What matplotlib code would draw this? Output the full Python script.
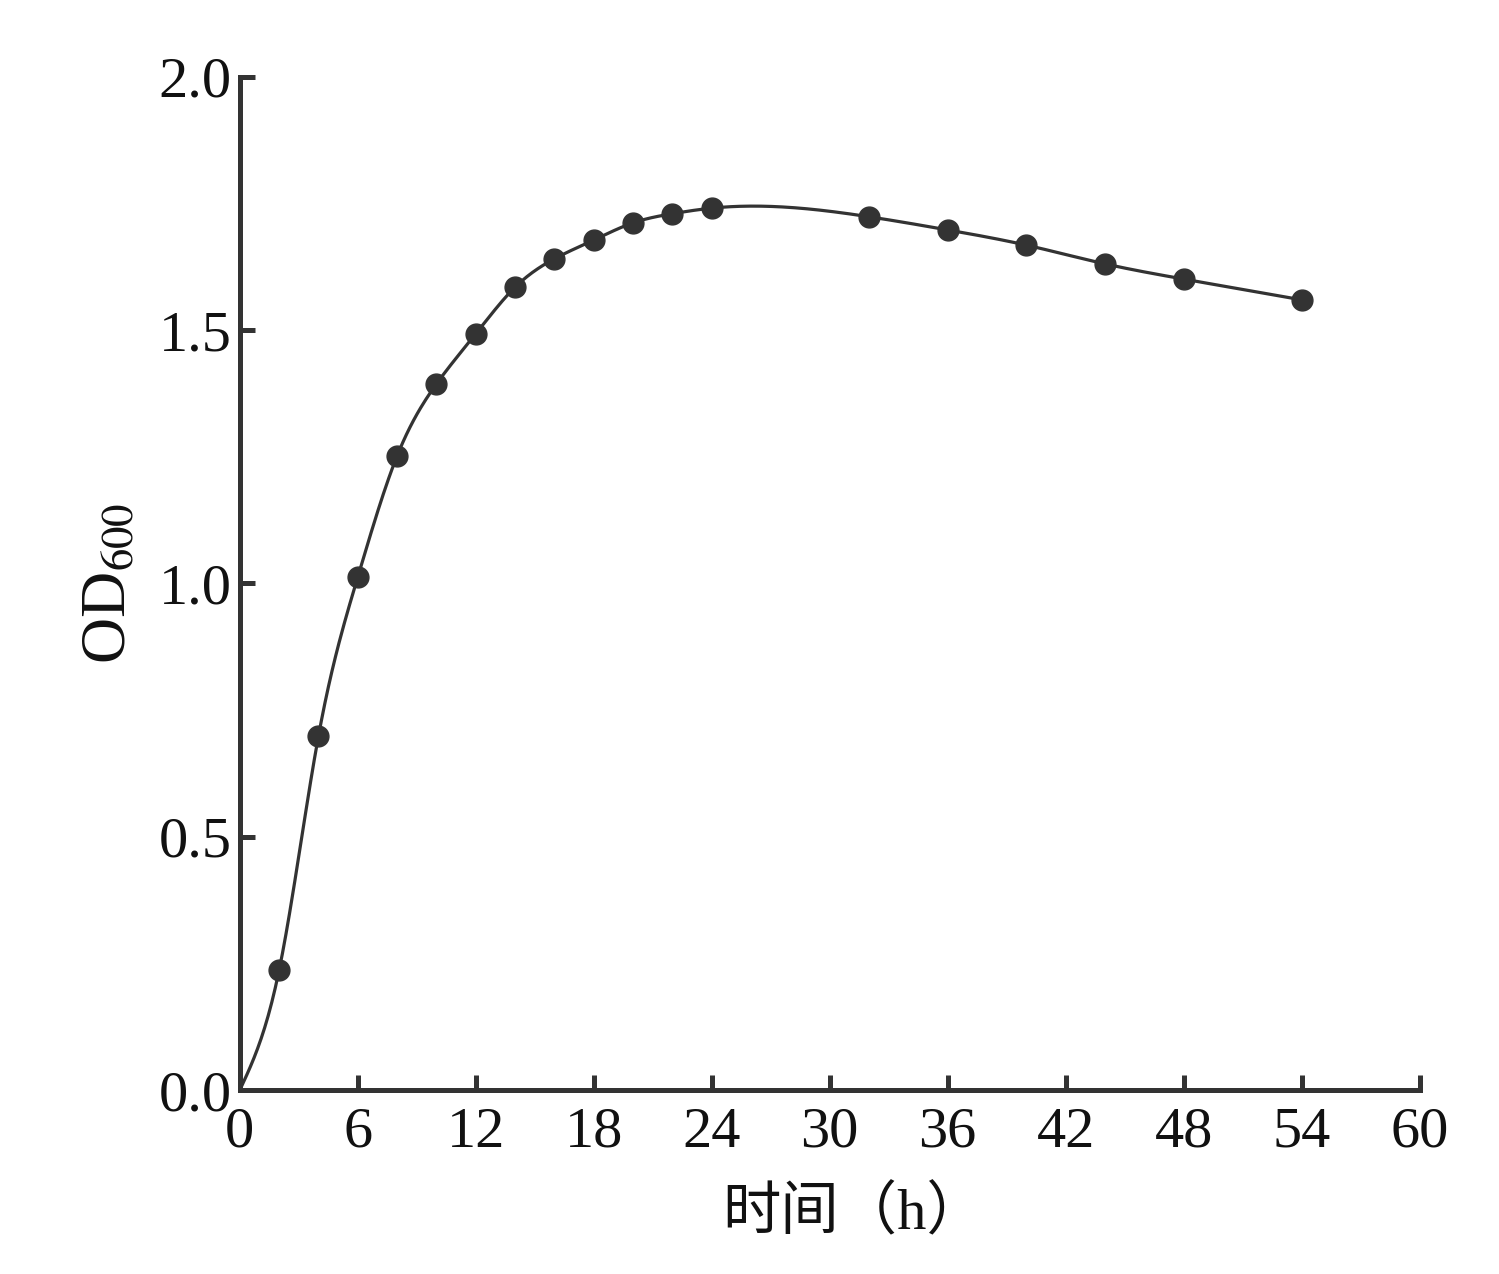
import numpy as np
import matplotlib.pyplot as plt

# datos
t_h = [2, 4, 6, 8, 10, 12, 14, 16, 18, 20, 22, 24, 32, 36, 40, 44, 48, 54]
od600 = [0.237, 0.699, 1.013, 1.252, 1.394, 1.493, 1.585, 1.641, 1.678, 1.712,
         1.730, 1.741, 1.724, 1.698, 1.668, 1.631, 1.601, 1.560]
x_ticks = [0, 6, 12, 18, 24, 30, 36, 42, 48, 54, 60]
y_ticks = [0.0, 0.5, 1.0, 1.5, 2.0]

color = '#333333'


# spline cubica natural para la curva suave
def natural_spline(x, y, xs):
    x = np.asarray(x, float)
    y = np.asarray(y, float)
    n = len(x)
    h = np.diff(x)
    A = np.zeros((n, n))
    b = np.zeros(n)
    A[0, 0] = 1
    A[-1, -1] = 1
    for i in range(1, n - 1):
        A[i, i - 1] = h[i - 1]
        A[i, i] = 2 * (h[i - 1] + h[i])
        A[i, i + 1] = h[i]
        b[i] = 6 * ((y[i + 1] - y[i]) / h[i] - (y[i] - y[i - 1]) / h[i - 1])
    M = np.linalg.solve(A, b)
    idx = np.clip(np.searchsorted(x, xs) - 1, 0, n - 2)
    x0, x1 = x[idx], x[idx + 1]
    hh = x1 - x0
    a = (x1 - xs) / hh
    c = (xs - x0) / hh
    return (a * y[idx] + c * y[idx + 1]
            + ((a**3 - a) * M[idx] + (c**3 - c) * M[idx + 1]) * hh**2 / 6)


curve_x = [0] + t_h
curve_y = [0.0] + od600
xs = np.linspace(0, t_h[-1], 600)
ys = natural_spline(curve_x, curve_y, xs)

plt.rcParams['font.family'] = ['Liberation Serif', 'Noto Sans CJK SC']
plt.rcParams['mathtext.fontset'] = 'stix'

fig = plt.figure(figsize=(14.99, 12.74), dpi=100)
ax = fig.add_axes([0.160, 0.1444, 0.787, 0.7952])

ax.plot(xs, ys, color=color, linewidth=2.3, zorder=2)
ax.plot(t_h, od600, 'o', color=color, markersize=15, zorder=3)

ax.set_xlim(0, 60)
ax.set_ylim(0, 2.0)
ax.set_xticks(x_ticks)
ax.set_yticks(y_ticks)
ax.set_yticklabels(['%.1f' % v for v in y_ticks])

for s in ['top', 'right']:
    ax.spines[s].set_visible(False)
for s in ['left', 'bottom']:
    ax.spines[s].set_linewidth(3.6)
    ax.spines[s].set_color(color)
    ax.spines[s].set_clip_on(False)

ax.tick_params(direction='in', length=11, width=3.6, color=color,
               labelsize=42, labelcolor='#111111')
ax.tick_params(axis='x', pad=12)
ax.tick_params(axis='y', pad=6)

ax.set_xlabel('时间（h）', fontsize=42, color='#111111')
ax.xaxis.set_label_coords(0.52, -0.095)
ax.set_ylabel('OD$_{600}$', fontsize=46, color='#111111', labelpad=14)

fig.savefig('out.png', dpi=100)
